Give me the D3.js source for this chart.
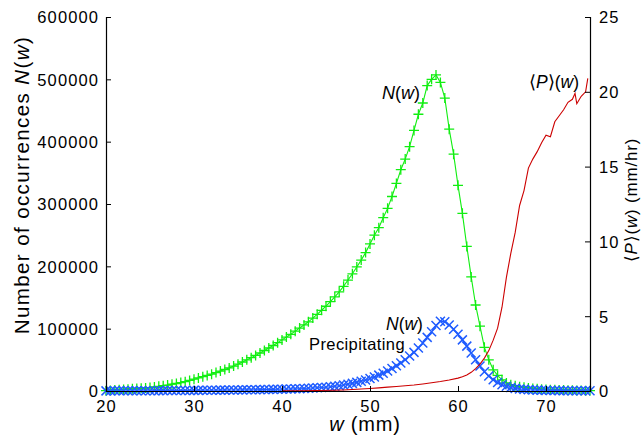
<!DOCTYPE html>
<html>
<head>
<meta charset="utf-8">
<script src="https://cdn.jsdelivr.net/npm/d3@7"></script>
<style>
  html, body { margin: 0; padding: 0; background: #fff; }
  svg { display: block; font-family: "Liberation Sans", Arial, Helvetica, sans-serif; }
</style>
</head>
<body>
<svg id="chart" width="643" height="439"></svg>
<script>
// ---------- DATA ----------
const wGrid = [20,20.5,21,21.5,22,22.5,23,23.5,24,24.5,25,25.5,26,26.5,27,27.5,28,28.5,29,29.5,
  30,30.5,31,31.5,32,32.5,33,33.5,34,34.5,35,35.5,36,36.5,37,37.5,38,38.5,39,39.5,
  40,40.5,41,41.5,42,42.5,43,43.5,44,44.5,45,45.5,46,46.5,47,47.5,48,48.5,49,49.5,
  50,50.5,51,51.5,52,52.5,53,53.5,54,54.5,55,55.5,56,56.5,57,57.5,58,58.5,59,59.5,
  60,60.5,61,61.5,62,62.5,63,63.5,64,64.5,65,65.5,66,66.5,67,67.5,68,68.5,69,69.5,
  70,70.5,71,71.5,72,72.5,73,73.5,74,74.5,75];

// N(w), all occurrences (counts)
const nAll = [500,1000,1500,2000,2500,3000,3500,4000,4500,5000,5500,6500,7500,8500,9500,11000,12000,13500,15000,17000,
  19000,21000,23000,25000,27000,29500,32000,34500,37000,40000,43000,46500,50000,53500,57000,61000,65000,69000,73000,77500,
  82000,86500,91000,96000,101000,106000,111000,117000,123000,129500,136000,143500,151000,159000,168000,178000,188000,199000,210000,222000,
  236000,250000,262000,278000,293000,312000,333000,355000,372000,392000,418000,444000,462000,490000,500000,507000,495000,470000,420000,380000,
  330000,285000,232000,183000,138000,104000,70000,50000,34000,25000,18000,13000,10000,8500,7000,6000,5000,4200,3500,3000,
  2500,2200,2000,1800,1500,1300,1100,1000,800,600,500];

// N(w), precipitating (counts)
const nPrecip = [200,200,250,300,300,350,400,400,450,500,500,550,600,650,700,750,800,850,900,950,
  1000,1050,1100,1150,1200,1300,1400,1450,1500,1600,1700,1800,1900,2000,2100,2200,2300,2450,2600,2750,
  2900,3100,3300,3500,3700,4000,4300,4700,5100,5600,6100,6800,7500,8500,9500,10800,12200,13800,15500,17500,
  20000,22500,25500,28500,32000,36000,40500,45000,50000,56000,62000,69000,77000,86000,95000,105000,112000,111000,106000,99000,
  91000,82000,72000,61000,50000,40000,31000,24000,18000,13500,10000,7500,5500,4200,3300,2600,2100,1700,1400,1200,
  1000,850,750,650,550,500,450,400,350,300,300];

// <P>(w), mm/hr
const pW = [40,42,44,46,47,48,49,50,51,52,53,54,55,56,57,58,59,60,60.5,61,61.5,62,62.5,63,63.5,64,64.5,65,65.5,66,66.5,67,67.5,68,68.5,69,69.5,70,70.5,71,71.5,72,72.5,73,73.3,73.5,74,74.5,74.75];
const pMean = [0.01,0.02,0.03,0.05,0.07,0.1,0.13,0.17,0.21,0.26,0.3,0.35,0.4,0.47,0.55,0.63,0.73,0.86,0.95,1.07,1.25,1.5,1.8,2.2,2.7,3.4,4.2,5.6,7.6,9.2,10.6,12.4,13.4,14.9,15.5,16.0,16.6,17.1,17.0,18.0,18.4,18.8,19.3,19.5,19.9,19.2,19.7,20.0,20.9];

const xTicks = [20,30,40,50,60,70];
const yLeftTicks = [0,100000,200000,300000,400000,500000,600000];
const yRightTicks = [0,5,10,15,20,25];

// ---------- LAYOUT ----------
const svg = d3.select("#chart");
const L = 106, R = 590, T = 17, B = 391;
const x = d3.scaleLinear().domain([20,75]).range([L,R]);
const yL = d3.scaleLinear().domain([0,600000]).range([B,T]);
const yR = d3.scaleLinear().domain([0,25]).range([B,T]);

const green = "#11ee11", blue = "#1f5cff", red = "#cc0000";
const tickFont = 16.5;

// axes
const axL = d3.axisLeft(yL).tickValues(yLeftTicks).tickSize(-5).tickPadding(7).tickFormat(d3.format("d"));
const axR = d3.axisRight(yR).tickValues(yRightTicks).tickSize(-5).tickPadding(9).tickFormat(d3.format("d"));
const axB = d3.axisBottom(x).tickValues(xTicks).tickSize(-5).tickPadding(9).tickFormat(d3.format("d"));

function styleAxis(g) {
  g.select(".domain").attr("stroke", "#000").attr("stroke-width", 1.2);
  g.selectAll(".tick line").attr("stroke", "#000");
  g.selectAll("text").attr("fill", "#000").style("font-size", tickFont + "px").style("letter-spacing", "1.1px");
}

// ---------- SERIES ----------
const lineAll = d3.line().x((d,i) => x(wGrid[i])).y(d => yL(d));
svg.append("path").attr("d", lineAll(nAll)).attr("fill","none").attr("stroke",green).attr("stroke-width",1.1);
const plus = 5;
svg.append("g").selectAll("path").data(nAll).join("path")
  .attr("d", (d,i) => { const cx = x(wGrid[i]), cy = yL(d);
    return `M${cx-plus},${cy}H${cx+plus}M${cx},${cy-plus}V${cy+plus}`; })
  .attr("stroke", green).attr("stroke-width", 1.3).attr("fill","none");

svg.append("path").attr("d", lineAll(nPrecip)).attr("fill","none").attr("stroke",blue).attr("stroke-width",1.1);
const cr = 4.5;
svg.append("g").selectAll("path").data(nPrecip).join("path")
  .attr("d", (d,i) => { const cx = x(wGrid[i]), cy = yL(d);
    return `M${cx-cr},${cy-cr}L${cx+cr},${cy+cr}M${cx-cr},${cy+cr}L${cx+cr},${cy-cr}`; })
  .attr("stroke", blue).attr("stroke-width", 1.5).attr("fill","none");

const lineP = d3.line().x((d,i) => x(pW[i])).y(d => yR(d));
svg.append("path").attr("d", lineP(pMean)).attr("fill","none").attr("stroke",red).attr("stroke-width",1.1);

// axes drawn on top
svg.append("g").attr("transform",`translate(${L},0)`).call(axL).call(styleAxis)
  .selectAll("text").attr("dy","0.36em");
svg.append("g").attr("transform",`translate(${R},0)`).call(axR).call(styleAxis)
  .selectAll("text").attr("dy","0.36em");
svg.append("g").attr("transform",`translate(0,${B})`).call(axB).call(styleAxis);

// ---------- LABELS ----------
function richText(parent, parts) {
  parts.forEach(p => parent.append("tspan").text(p[0]).style("font-style", p[1] ? "italic" : "normal"));
}
// left axis title
const tl = svg.append("text").attr("transform","translate(29,185) rotate(-90)")
  .attr("text-anchor","middle").style("font-size","20.5px").style("letter-spacing","1.4px");
richText(tl, [["Number of occurrences ",0],["N",1],["(",0],["w",1],[")",0]]);

// right axis title
const tr = svg.append("text").attr("transform","translate(637,200) rotate(-90)")
  .attr("text-anchor","middle").style("font-size","17px").style("letter-spacing","0.8px");
richText(tr, [["\u27E8",0],["P",1],["\u27E9(",0],["w",1],[") (mm/hr)",0]]);

// x axis title
const tx = svg.append("text").attr("x",365).attr("y",431)
  .attr("text-anchor","middle").style("font-size","20px").style("letter-spacing","0.8px");
richText(tx, [["w",1],[" (mm)",0]]);

// in-plot labels
const l1 = svg.append("text").attr("x",382).attr("y",99).style("font-size","18px");
richText(l1, [["N",1],["(",0],["w",1],[")",0]]);
const l2 = svg.append("text").attr("x",386).attr("y",330).style("font-size","17.5px");
richText(l2, [["N",1],["(",0],["w",1],[")",0]]);
svg.append("text").attr("x",309).attr("y",350).style("font-size","16.5px").style("letter-spacing","0.4px").text("Precipitating");
const l3 = svg.append("text").attr("x",529).attr("y",88).style("font-size","17.5px");
richText(l3, [["\u27E8",0],["P",1],["\u27E9(",0],["w",1],[")",0]]);
</script>
</body>
</html>
